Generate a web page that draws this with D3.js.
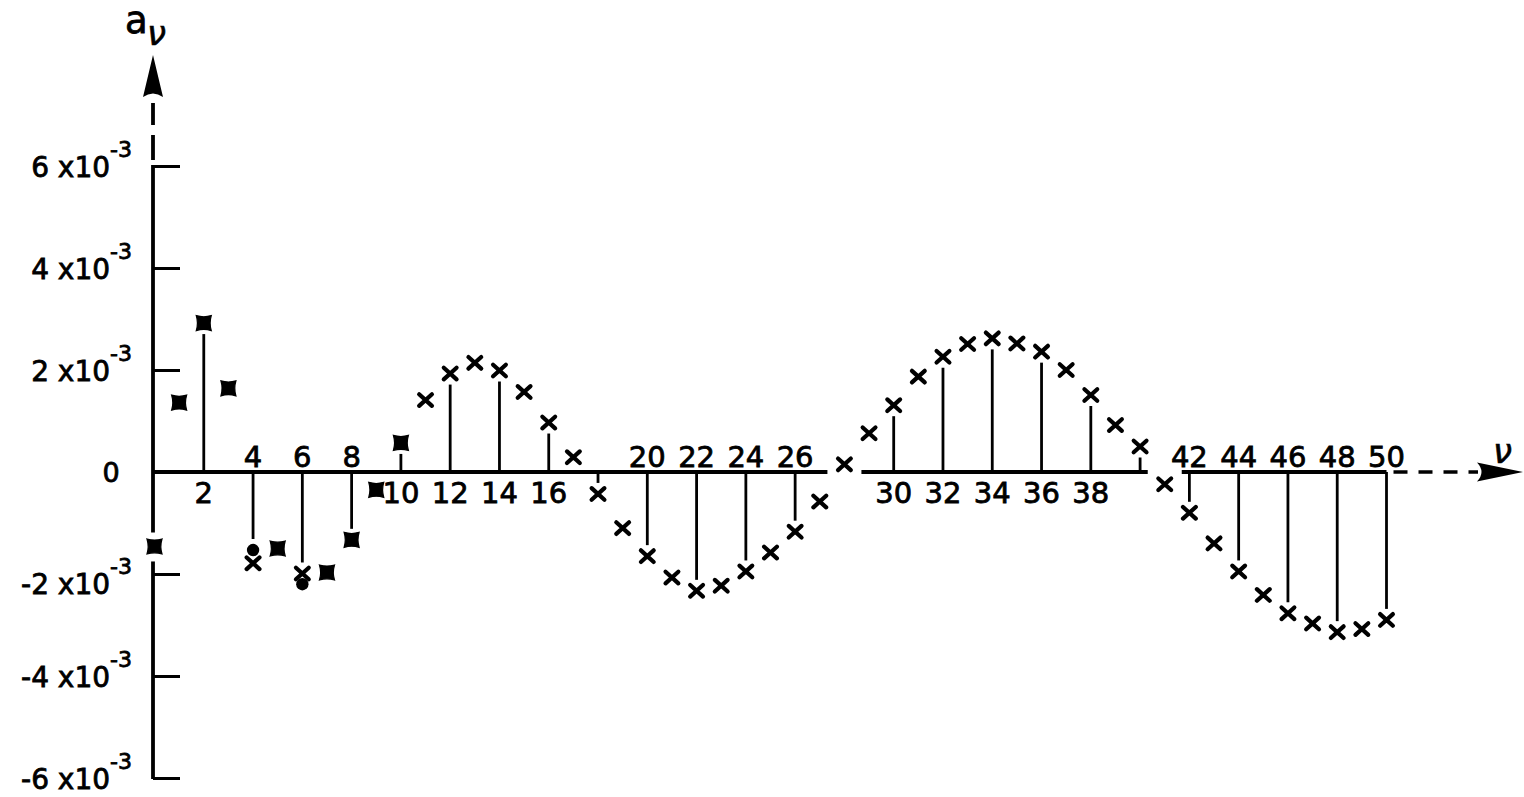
<!DOCTYPE html>
<html><head><meta charset="utf-8">
<script src="https://cdn.jsdelivr.net/npm/d3@7"></script>
<style>
html,body{margin:0;padding:0;background:#fff;}
svg{display:block;}
text{font-family:"DejaVu Sans",sans-serif;fill:#000;stroke:#000;stroke-width:0.8px;}
</style></head><body>
<svg id="chart" width="1524" height="797"></svg>
<script>
// ---- data (values in units of 10^-3) ----
const nu = [0,1,2,3,4,5,6,7,8,9,10,11,12,13,14,15,16,17,18,19,20,21,22,23,24,25,26,27,28,29,30,
            31,32,33,34,35,36,37,38,39,40,41,42,43,44,45,46,47,48,49,50];
const crossValues = [-1.46,1.36,2.92,1.64,-1.79,-1.50,-1.99,-1.97,-1.33,-0.35,0.57,
                     1.41,1.93,2.14,1.99,1.57,0.97,0.29,-0.43,-1.10,-1.65,
                     -2.07,-2.33,-2.23,-1.95,-1.58,-1.17,-0.58,0.15,0.76,1.31,
                     1.87,2.26,2.51,2.62,2.52,2.36,2.00,1.51,0.92,0.50,
                     -0.24,-0.80,-1.40,-1.95,-2.41,-2.77,-2.97,-3.14,-3.08,-2.90];
const dotNu = [0,1,2,3,4,5,6,7,8,9,10];
const dotValues = [-1.46,1.36,2.92,1.64,-1.53,-1.50,-2.20,-1.97,-1.33,-0.35,0.57];
const stemNu = [2,4,6,8,10,12,14,16,18,20,22,24,26,30,32,34,36,38,40,42,44,46,48,50];
const xTickLabels = [2,4,6,8,10,12,14,16,20,22,24,26,30,32,34,36,38,42,44,46,48,50];
const yTickValues = [6,4,2,-2,-4,-6];
const yTickLabels = ["6","4","2","-2","-4","-6"];
const yExponent = "-3";

// ---- scales ----
const x = d3.scaleLinear().domain([0,50]).range([154.5,1386.5]);
const y = d3.scaleLinear().domain([-6,6]).range([778,166]);
const svg = d3.select("#chart");
svg.append("rect").attr("width",1524).attr("height",797).attr("fill","#fff");

const axisX = 153, y0 = y(0), AX = 3.8;
const crossMap = new Map(nu.map((n,i)=>[n,crossValues[i]]));

// ---- y axis line with gap around the nu=0 marker ----
const gapY = y(crossMap.get(0));
const ySegs = [[y(-6)+1, gapY+15],[gapY-14, y(6)-1]];
svg.selectAll("line.yaxis").data(ySegs).join("line")
  .attr("x1",axisX).attr("x2",axisX).attr("y1",d=>d[0]).attr("y2",d=>d[1])
  .attr("stroke","#000").attr("stroke-width",AX);
// dashed extension and arrow
svg.append("line").attr("x1",axisX).attr("x2",axisX).attr("y1",y(6)-6).attr("y2",103)
  .attr("stroke","#000").attr("stroke-width",AX).attr("stroke-dasharray","25,10");
svg.append("path").attr("d",`M${axisX},55 L${axisX+10},97 Q${axisX},90 ${axisX-10},97 Z`).attr("fill","#000");

// y ticks via axis
const yAxis = d3.axisLeft(y).tickValues(yTickValues).tickSize(-27).tickFormat("");
const gy = svg.append("g").attr("transform",`translate(${axisX},0)`).call(yAxis);
gy.select(".domain").remove();
gy.selectAll(".tick line").attr("stroke","#000").attr("stroke-width",3);

// y tick labels
yTickValues.forEach((v,i)=>{
  const adj = v === -2 ? 9 : 0;
  const t = svg.append("text").attr("x",132).attr("y",y(v)+11+adj).attr("text-anchor","end")
    .attr("font-size",28);
  t.append("tspan").text(yTickLabels[i]+" x10");
  t.append("tspan").attr("font-size",22).attr("dy",-20).text(yExponent);
});
svg.append("text").attr("x",111).attr("y",y0+10).attr("text-anchor","middle").attr("font-size",27).text("0");

// axis title a_nu
svg.append("text").attr("x",125).attr("y",33).attr("font-size",37).text("a");
svg.append("text").attr("x",147).attr("y",45).attr("font-size",34).style("stroke-width","0.6px")
  .attr("font-family","DejaVu Serif").attr("font-style","italic").text("ν");

// ---- x axis line with gaps where markers sit on it ----
const gaps = nu.filter((n,i)=>n>0 && Math.abs(y(crossValues[i])-y0) < 13.5).map(n=>x(n));
let segs = [], start = axisX;
gaps.forEach(g=>{ segs.push([start, g-17]); start = g+17; });
segs.push([start, x(50)]);
svg.selectAll("line.xaxis").data(segs).join("line")
  .attr("x1",d=>d[0]).attr("x2",d=>d[1]).attr("y1",y0).attr("y2",y0)
  .attr("stroke","#000").attr("stroke-width",AX);
svg.append("line").attr("x1",x(50)+7).attr("x2",1478).attr("y1",y0).attr("y2",y0)
  .attr("stroke","#000").attr("stroke-width",AX-0.4).attr("stroke-dasharray","14,11");
svg.append("path").attr("d",`M1523,${y0} L1477,${y0-9.5} Q1486,${y0} 1477,${y0+9.5} Z`).attr("fill","#000");
svg.append("text").attr("x",1493).attr("y",463).attr("font-size",34).style("stroke-width","0.6px")
  .attr("font-family","DejaVu Serif").attr("font-style","italic").text("ν");

// ---- stems ----
const dotMap = new Map(dotNu.map((n,i)=>[n,dotValues[i]]));
stemNu.forEach(n=>{
  let v = crossMap.get(n);
  if (dotMap.has(n) && Math.abs(dotMap.get(n)) < Math.abs(v)) v = dotMap.get(n);
  const yy = y(v), s = yy > y0 ? 1 : -1;
  const end = yy - s*11;
  if ((end - y0)*s <= 0) return;
  svg.append("line").attr("x1",x(n)).attr("x2",x(n)).attr("y1",y0).attr("y2",end)
    .attr("stroke","#000").attr("stroke-width",2.8);
});

// ---- x tick labels (opposite side of the stem) ----
xTickLabels.forEach(n=>{
  const v = crossMap.get(n);
  svg.append("text").attr("x",x(n)).attr("y", v < 0 ? 467 : 503)
    .attr("text-anchor","middle").attr("font-size",29).text(n);
});

// ---- markers ----
const coincide = new Set(dotNu.filter((n,i)=>Math.abs(dotValues[i]-crossMap.get(n))<0.05));
// separate dots
dotNu.forEach((n,i)=>{
  if (coincide.has(n)) return;
  svg.append("circle").attr("cx",x(n)).attr("cy",y(dotValues[i])).attr("r",6.2).attr("fill","#000");
});
// crosses
nu.forEach((n,i)=>{
  if (coincide.has(n)) return;
  const cx = x(n), cy = y(crossValues[i]), a = 6.4, b = 5.8;
  svg.append("path").attr("d",`M${cx-a},${cy-b}L${cx+a},${cy+b}M${cx-a},${cy+b}L${cx+a},${cy-b}`)
    .attr("stroke","#000").attr("stroke-width",4.2).attr("stroke-linecap","round").attr("fill","none");
});
// coincident marker (dot + cross): filled, slightly concave square
coincide.forEach(n=>{
  const cx = x(n), cy = y(crossMap.get(n)), h = 7.5, c = 5.2;
  svg.append("path").attr("d",
    `M${cx-h},${cy-h} Q${cx},${cy-c} ${cx+h},${cy-h} Q${cx+c},${cy} ${cx+h},${cy+h} Q${cx},${cy+c} ${cx-h},${cy+h} Q${cx-c},${cy} ${cx-h},${cy-h} Z`)
    .attr("fill","#000").attr("stroke","#000").attr("stroke-width",1.2);
});
</script>
</body></html>
